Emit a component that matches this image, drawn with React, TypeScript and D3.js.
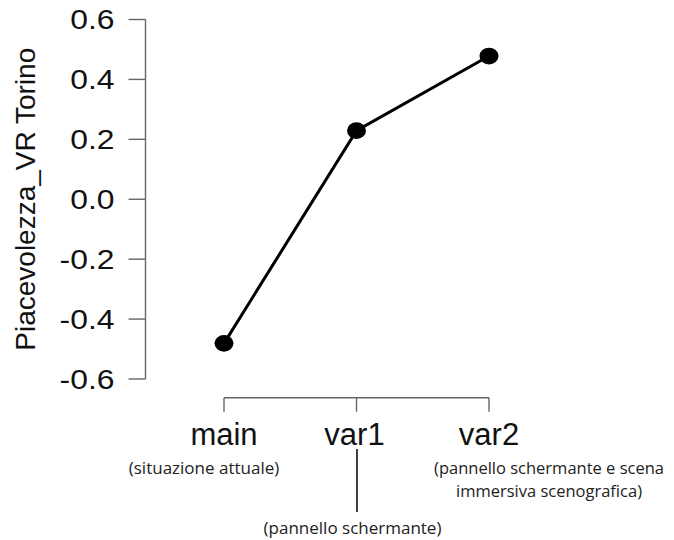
import React from "react";
import * as d3 from "d3";

const categories = ["main", "var1", "var2"];
const values = [-0.481, 0.229, 0.478];
const yTicks = [0.6, 0.4, 0.2, 0.0, -0.2, -0.4, -0.6];
const yLabel = "Piacevolezza_VR Torino";
const subLabels: string[][] = [
  ["(situazione attuale)"],
  ["(pannello schermante)"],
  ["(pannello schermante e scena", "immersiva scenografica)"],
];

const W = 674;
const H = 540;

export default function App() {
  const x = d3.scalePoint<string>().domain(categories).range([224, 489]);
  const y = d3.scaleLinear().domain([-0.6, 0.6]).range([379, 19.5]);
  const axisX = 145.5;
  const axisY = 397.7;
  const line = d3
    .line<number>()
    .x((_, i) => x(categories[i]) as number)
    .y((d) => y(d));
  const fmt = d3.format(".1f");
  const sans = "Liberation Sans, Arial, sans-serif";
  const sub = "Open Sans, Noto Sans, sans-serif";
  const axisColor = "#666";

  const xm = x("main") as number;
  const x1 = x("var1") as number;
  const x2 = x("var2") as number;

  return (
    <svg
      width={W}
      height={H}
      style={{ position: "absolute", left: 0, top: 0, background: "#fff" }}
    >
      {/* y axis */}
      <line x1={axisX} x2={axisX} y1={y(0.6)} y2={y(-0.6)} stroke={axisColor} strokeWidth={1.4} />
      {yTicks.map((t) => (
        <g key={t}>
          <line x1={axisX - 17} x2={axisX} y1={y(t)} y2={y(t)} stroke={axisColor} strokeWidth={1.4} />
          <text
            transform={`translate(${axisX - 31},${y(t) + 9.5}) scale(1.18,1)`}
            textAnchor="end"
            fontFamily={sans}
            fontSize={27}
            fill="#111"
          >
            {fmt(t).replace("−", "-")}
          </text>
        </g>
      ))}
      <text
        transform={`translate(35,${(y(0.6) + y(-0.6)) / 2}) rotate(-90)`}
        textAnchor="middle"
        fontFamily={sans}
        fontSize={28}
        fill="#111"
      >
        {yLabel}
      </text>

      {/* x axis */}
      <line x1={xm} x2={x2} y1={axisY} y2={axisY} stroke={axisColor} strokeWidth={1.4} />
      {categories.map((c) => (
        <g key={c}>
          <line x1={x(c)} x2={x(c)} y1={axisY} y2={axisY + 14} stroke={axisColor} strokeWidth={1.4} />
          <text
            x={(x(c) as number) - (c === "var1" ? 2 : 0)}
            y={445}
            textAnchor="middle"
            fontFamily={sans}
            fontSize={31}
            fill="#111"
          >
            {c}
          </text>
        </g>
      ))}

      {/* sub labels */}
      <text x={xm - 20} y={474} textAnchor="middle" fontFamily={sub} fontSize={17} fill="#222">
        {subLabels[0][0]}
      </text>
      <line x1={x1 + 0.5} x2={x1 + 0.5} y1={449} y2={512} stroke="#111" strokeWidth={1.6} />
      <text x={x1 - 4} y={534} textAnchor="middle" fontFamily={sub} fontSize={17} fill="#222">
        {subLabels[1][0]}
      </text>
      {subLabels[2].map((s, i) => (
        <text
          key={i}
          x={x2 + 60}
          y={474 + i * 22.5}
          textAnchor="middle"
          fontFamily={sub}
          fontSize={16.5}
          fill="#222"
        >
          {s}
        </text>
      ))}

      {/* data */}
      <path d={line(values) || ""} fill="none" stroke="#000" strokeWidth={3} />
      {values.map((v, i) => (
        <ellipse key={i} cx={x(categories[i])} cy={y(v)} rx={9.5} ry={8.4} fill="#000" />
      ))}
    </svg>
  );
}
